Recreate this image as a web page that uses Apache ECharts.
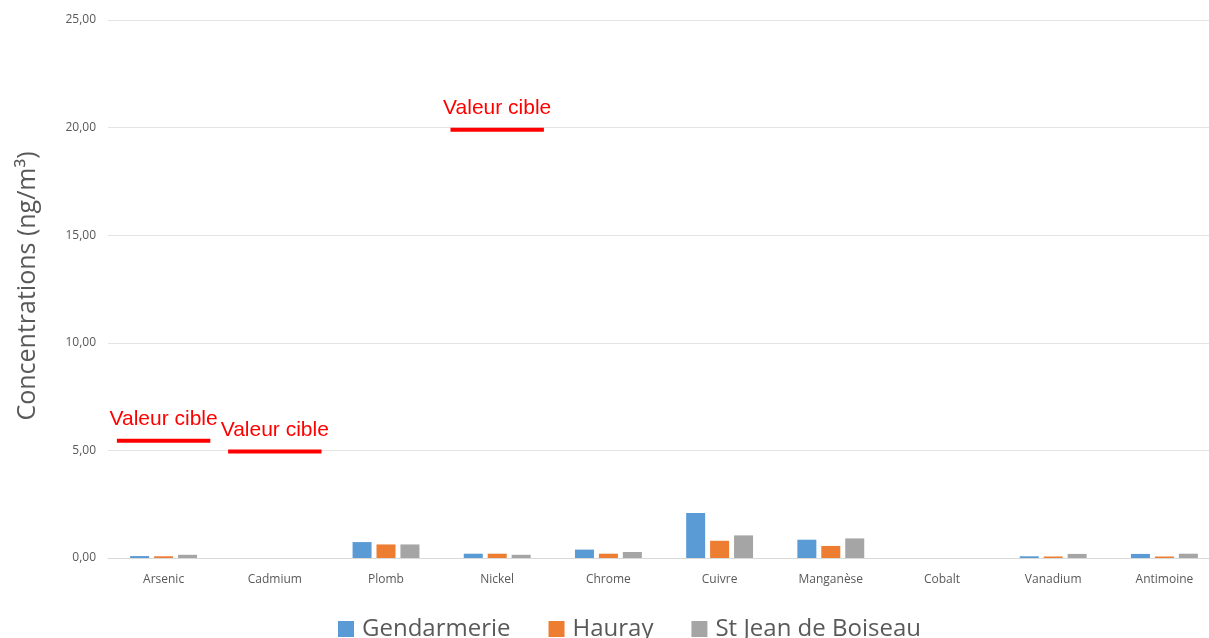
<!DOCTYPE html>
<html>
<head>
<meta charset="utf-8">
<script src="https://cdn.jsdelivr.net/npm/echarts@6/dist/echarts.min.js"></script>
<style>
  html, body { margin: 0; padding: 0; background: #fff; overflow: hidden; }
  /* the original chart is cut off on the right, so the chart is a bit wider than the window */
  #chart { width: 1220px; height: 638px; }
</style>
</head>
<body>
<div id="chart"></div>
<script>
const categories = ['Arsenic', 'Cadmium', 'Plomb', 'Nickel', 'Chrome', 'Cuivre', 'Manganèse', 'Cobalt', 'Vanadium', 'Antimoine'];
const gendarmerie = [0.09, 0, 0.74, 0.20, 0.39, 2.09, 0.85, 0, 0.08, 0.19];
const hauray = [0.08, 0, 0.63, 0.20, 0.20, 0.80, 0.56, 0, 0.07, 0.07];
const stJean = [0.15, 0, 0.63, 0.15, 0.28, 1.05, 0.91, 0, 0.19, 0.20];
// Target values ("Valeur cible") drawn as short red marks over the category
const targetCats = ['Arsenic', 'Cadmium', 'Nickel'];
const targetValues = [5.45, 4.95, 19.9];

const chart = echarts.init(document.getElementById('chart'));
const textGrey = '#595959';

function barSeries(name, data, color) {
  return {
    name: name,
    type: 'bar',
    data: data,
    barWidth: 19,
    barGap: '26%',
    itemStyle: { color: color }
  };
}

chart.setOption({
  animation: false,
  grid: { left: 108, right: 0, top: 20, bottom: 80 },
  legend: {
    bottom: -8,
    left: 333,
    data: ['Gendarmerie', 'Hauray', 'St Jean de Boiseau'],
    icon: 'rect',
    itemWidth: 16,
    itemHeight: 16,
    itemGap: 38,
    textStyle: { color: textGrey, fontSize: 24, fontFamily: 'Open Sans', padding: [0, 0, 0, 3] }
  },
  xAxis: {
    type: 'category',
    data: categories,
    axisLine: { lineStyle: { color: '#d9d9d9' } },
    axisTick: { show: false },
    axisLabel: { color: textGrey, fontSize: 12, fontFamily: 'Open Sans', margin: 16 }
  },
  yAxis: {
    type: 'value',
    min: 0,
    max: 25,
    interval: 5,
    name: 'Concentrations (ng/m³)',
    nameLocation: 'middle',
    nameGap: 68,
    nameTextStyle: { color: textGrey, fontSize: 25, fontFamily: 'Open Sans', padding: [0, 0, 0, 6] },
    axisLabel: {
      color: textGrey,
      fontSize: 12,
      fontFamily: 'Open Sans',
      margin: 12,
      formatter: v => v.toFixed(2).replace('.', ',')
    },
    splitLine: { lineStyle: { color: '#e4e4e4' } }
  },
  series: [
    barSeries('Gendarmerie', gendarmerie, '#5b9bd5'),
    barSeries('Hauray', hauray, '#ed7d31'),
    barSeries('St Jean de Boiseau', stJean, '#a5a5a5'),
    {
      name: 'Valeur cible',
      type: 'custom',
      data: targetCats.map((c, i) => [c, targetValues[i]]),
      renderItem: (params, api) => {
        const p = api.coord([api.value(0), api.value(1)]);
        const half = api.size([1, 0])[0] * 0.42;
        return {
          type: 'group',
          children: [
            {
              type: 'line',
              shape: { x1: p[0] - half, y1: p[1], x2: p[0] + half, y2: p[1] },
              style: { stroke: '#ff0000', lineWidth: 4 }
            },
            {
              type: 'text',
              x: p[0],
              y: p[1] - 11,
              style: {
                text: 'Valeur cible',
                fill: '#ff0000',
                fontSize: 21,
                fontFamily: 'Liberation Sans',
                align: 'center',
                verticalAlign: 'bottom'
              }
            }
          ]
        };
      }
    }
  ]
});
</script>
</body>
</html>
